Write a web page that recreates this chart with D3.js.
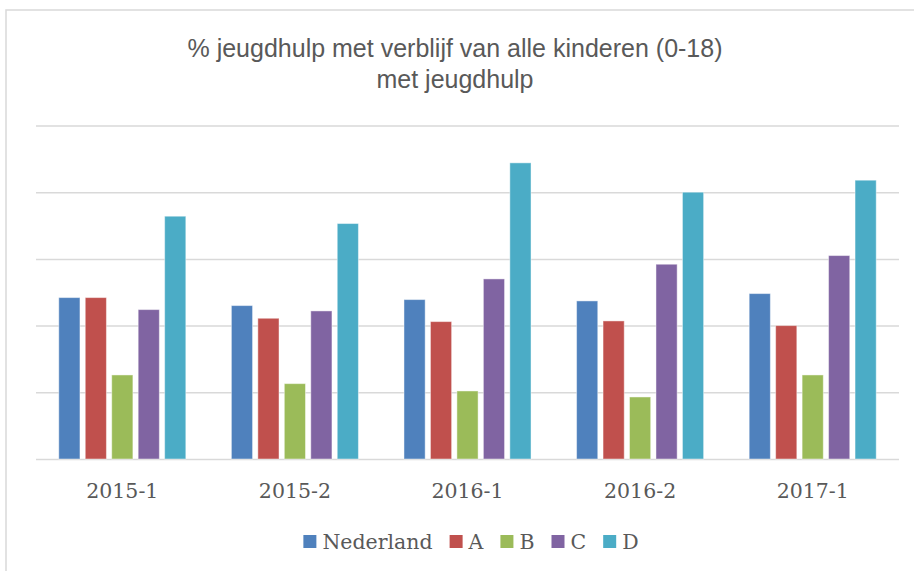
<!DOCTYPE html>
<html>
<head>
<meta charset="utf-8">
<script src="https://cdn.jsdelivr.net/npm/d3@7"></script>
<style>
  html, body { margin: 0; padding: 0; background: #ffffff; }
  svg { display: block; }
</style>
</head>
<body>
<svg id="chart" width="914" height="571"></svg>
<script>
// ---- data ----
const categories = ["2015-1", "2015-2", "2016-1", "2016-2", "2017-1"];
const seriesNames = ["Nederland", "A", "B", "C", "D"];
const nederland = [12.1, 11.5, 11.95, 11.85, 12.4];
const serieA    = [12.1, 10.55, 10.3, 10.35, 10.0];
const serieB    = [6.3, 5.65, 5.1, 4.65, 6.3];
const serieC    = [11.2, 11.1, 13.5, 14.6, 15.25];
const serieD    = [18.2, 17.65, 22.2, 20.0, 20.9];
const gridTicks = [0, 5, 10, 15, 20, 25];
const titleLines = ["% jeugdhulp met verblijf van alle kinderen (0-18)", "met jeugdhulp"];
const colors = ["#4F81BD", "#C0504D", "#9BBB59", "#8064A2", "#4BACC6"];

const seriesValues = [nederland, serieA, serieB, serieC, serieD];

const svg = d3.select("#chart");

// chart frame (only left/top visible in reference)
svg.append("rect")
  .attr("x", 6).attr("y", 10)
  .attr("width", 1000).attr("height", 1000)
  .attr("fill", "none")
  .attr("stroke", "#d9d9d9")
  .attr("stroke-width", 1.5);

// title
svg.append("text")
  .attr("x", 455).attr("y", 57)
  .attr("text-anchor", "middle")
  .attr("font-family", "'Liberation Sans', Arial, sans-serif")
  .attr("font-size", 25)
  .attr("fill", "#595959")
  .selectAll("tspan")
  .data(titleLines)
  .join("tspan")
  .attr("x", 455)
  .attr("dy", (d, i) => i === 0 ? 0 : 31)
  .text(d => d);

// scales
const plotLeft = 36, plotRight = 899, plotTop = 125.5, plotBottom = 459;
const y = d3.scaleLinear().domain([0, 25]).range([plotBottom, plotTop]);
const x0 = d3.scaleBand().domain(categories).range([plotLeft, plotRight])
  .paddingInner(0.264).paddingOuter(0.132);
const x1 = d3.scaleBand().domain(seriesNames).range([0, x0.bandwidth()])
  .paddingInner(0.2).paddingOuter(0);

// gridlines
const grid = svg.append("g")
  .attr("transform", `translate(${plotLeft},0)`)
  .call(d3.axisLeft(y).tickValues(gridTicks).tickSize(-(plotRight - plotLeft)).tickFormat(""));
grid.select(".domain").remove();
grid.selectAll(".tick line").attr("stroke", "#d9d9d9").attr("stroke-width", 1.5);

// bars
const groups = svg.append("g").selectAll("g")
  .data(categories)
  .join("g")
  .attr("transform", d => `translate(${x0(d)},0)`);

groups.selectAll("rect")
  .data((c, ci) => seriesNames.map((s, si) => ({ s, si, v: seriesValues[si][ci] })))
  .join("rect")
  .attr("x", d => x1(d.s))
  .attr("y", d => y(d.v))
  .attr("width", x1.bandwidth())
  .attr("height", d => y(0) - y(d.v))
  .attr("fill", d => colors[d.si])
  .attr("stroke", "#ffffff")
  .attr("stroke-opacity", 0.45)
  .attr("stroke-width", 1);

// category labels
const xAxis = svg.append("g")
  .attr("transform", `translate(0,${plotBottom})`)
  .call(d3.axisBottom(x0).tickSize(0).tickPadding(0));
xAxis.select(".domain").remove();
xAxis.selectAll("text")
  .attr("y", 38.5)
  .attr("dy", 0)
  .attr("font-family", "'DejaVu Serif', serif")
  .attr("font-size", 20.5)
  .attr("fill", "#595959");

// legend
const legend = svg.append("g");
const items = legend.selectAll("g")
  .data(seriesNames)
  .join("g");
items.append("rect")
  .attr("width", 13).attr("height", 13)
  .attr("y", 535)
  .attr("fill", (d, i) => colors[i]);
items.append("text")
  .attr("y", 548.5)
  .attr("font-family", "'DejaVu Serif', serif")
  .attr("font-size", 20.5)
  .attr("fill", "#595959")
  .text(d => d);
let cx = 0;
const positions = [];
items.each(function() {
  const w = d3.select(this).select("text").node().getComputedTextLength();
  positions.push(cx);
  cx += 13 + 6 + w + 17;
});
const totalW = cx - 17;
const startX = 471 - totalW / 2;
items.each(function(d, i) {
  const g = d3.select(this);
  g.select("rect").attr("x", startX + positions[i]);
  g.select("text").attr("x", startX + positions[i] + 19);
});
</script>
</body>
</html>
